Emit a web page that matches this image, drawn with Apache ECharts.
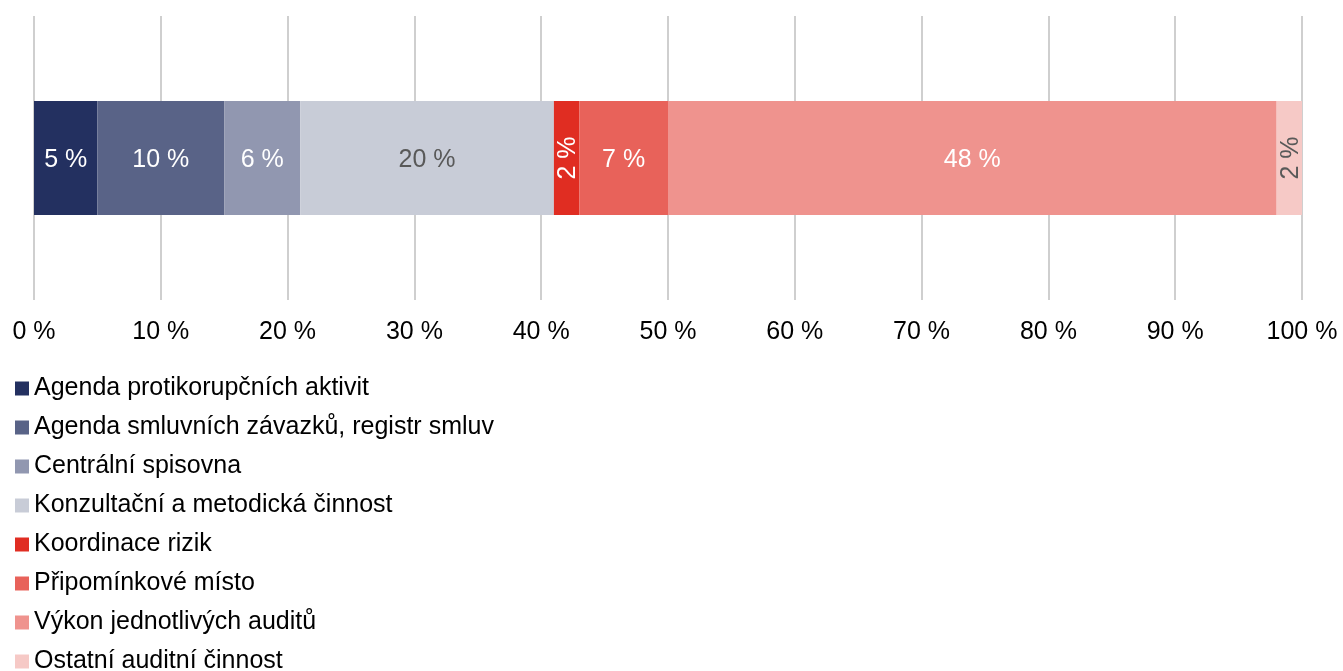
<!DOCTYPE html>
<html>
<head>
<meta charset="utf-8">
<script src="https://cdn.jsdelivr.net/npm/echarts@6/dist/echarts.min.js"></script>
<style>
  html, body { margin: 0; padding: 0; background: #fff; }
  #chart { width: 1343px; height: 671px; }
</style>
</head>
<body>
<div id="chart"></div>
<script>
// Shares of activities (percent of total)
const seriesNames = [
  'Agenda protikorupčních aktivit',
  'Agenda smluvních závazků, registr smluv',
  'Centrální spisovna',
  'Konzultační a metodická činnost',
  'Koordinace rizik',
  'Připomínkové místo',
  'Výkon jednotlivých auditů',
  'Ostatní auditní činnost'
];
const seriesValues = [5, 10, 6, 20, 2, 7, 48, 2];
const seriesColors = ['#233060', '#596387', '#9197b0', '#c8ccd7', '#e02d22', '#e8625a', '#ef938e', '#f6c9c6'];
const labelColors = ['#ffffff', '#ffffff', '#ffffff', '#595959', '#ffffff', '#ffffff', '#ffffff', '#595959'];
const labelRotate = [0, 0, 0, 0, 90, 0, 0, 90];
const categories = [''];

const font = '"Liberation Sans", Arial, sans-serif';

const series = seriesNames.map((name, i) => ({
  name: name,
  type: 'bar',
  stack: 'total',
  barWidth: 114,
  data: [seriesValues[i]],
  itemStyle: { color: seriesColors[i] },
  label: {
    show: true,
    position: 'inside',
    offset: [0, 2],
    rotate: labelRotate[i],
    formatter: '{c} %',
    color: labelColors[i],
    fontSize: 25,
    fontFamily: font
  },
  emphasis: { disabled: true }
}));

const chart = echarts.init(document.getElementById('chart'));
chart.setOption({
  animation: false,
  grid: { left: 34, right: 41, top: 16, bottom: 371, containLabel: false },
  xAxis: {
    type: 'value',
    min: 0,
    max: 100,
    interval: 10,
    axisLine: { show: false },
    axisTick: { show: false },
    splitLine: { show: true, lineStyle: { color: '#cfcfcf', width: 2 } },
    axisLabel: {
      formatter: '{value} %',
      color: '#000000',
      fontSize: 25,
      fontFamily: font,
      margin: 20
    }
  },
  yAxis: {
    type: 'category',
    data: categories,
    axisLine: { show: false },
    axisTick: { show: false },
    axisLabel: { show: false }
  },
  legend: {
    orient: 'vertical',
    left: 15,
    top: 376,
    height: 400,
    padding: 0,
    itemWidth: 14,
    itemHeight: 14,
    itemGap: 14,
    icon: 'rect',
    selectedMode: false,
    textStyle: {
      color: '#000000',
      fontSize: 25,
      fontFamily: font
    },
    data: seriesNames
  },
  series: series
});
</script>
</body>
</html>
